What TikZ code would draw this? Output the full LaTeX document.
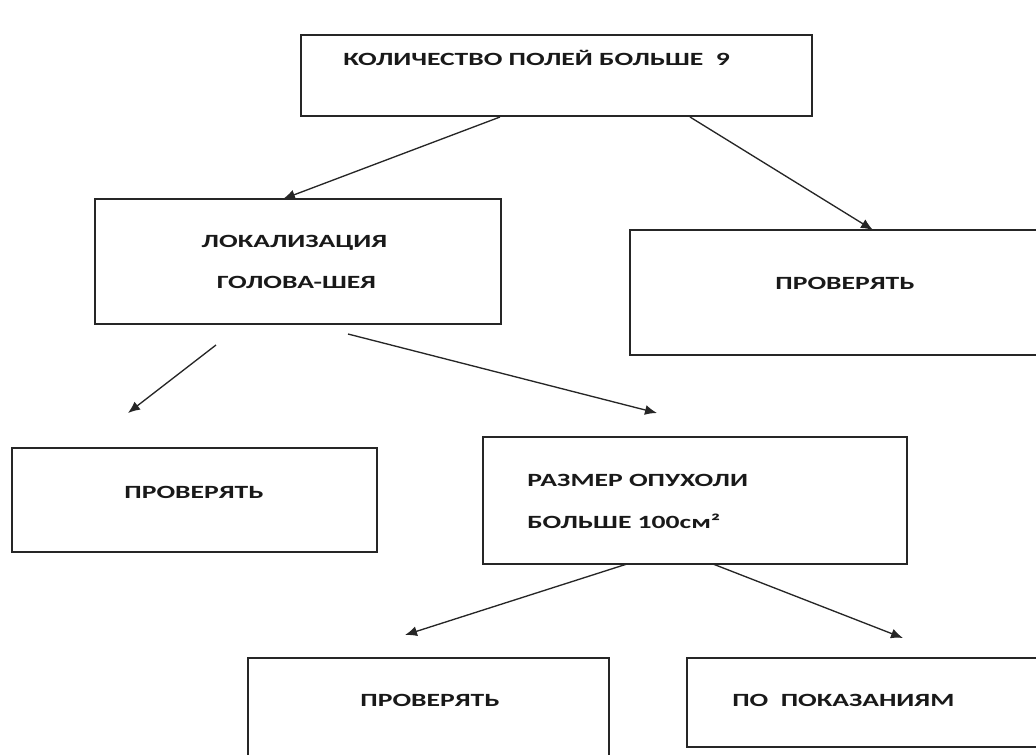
\documentclass[tikz,border=0pt]{standalone}
\usepackage{fontspec}
\usepackage{tikz}
\usetikzlibrary{arrows,arrows.meta,positioning}
\newfontfamily\boxfont[FakeStretch=1.48]{Carlito}
\newcommand\bt{\boxfont\bfseries\fontsize{14}{16}\selectfont}

\begin{document}
\begin{tikzpicture}[x=0.75pt,y=-0.75pt,>={Latex[length=9pt,width=7.5pt]}]%
        \useasboundingbox (0,0) rectangle (1036,754);%%
        \clip (0,0) rectangle (1036,754);%%
        \begin{scope}[shape=rectangle,line width=1.4pt]
        \tikzstyle{every node}=[draw=black!85,inner sep=0pt] %%
        \node[minimum width=383pt,minimum height=61pt] (kol) at (556.5,75.5)  {}; %%
        \node[minimum width=304pt,minimum height=94pt] (lok) at (298,261.5)  {}; %%
        \node[minimum width=308pt,minimum height=94pt] (pr1) at (835,292.5)  {}; %%
        \node[minimum width=274pt,minimum height=78pt] (pr2) at (194.5,500)  {}; %%
        \node[minimum width=318pt,minimum height=95pt] (raz) at (695,500.5)  {}; %%
        \node[minimum width=271pt,minimum height=77pt] (pr3) at (428.5,709)  {}; %%
        \node[minimum width=265pt,minimum height=67pt] (pok) at (863.5,702.5)  {}; %%
        \end{scope}
        \begin{scope}[inner sep=0pt]
        \tikzstyle{every node}=[font=\bt,text=black!90] %%
        \node[anchor=west] (kolt) at (343,58)  {КОЛИЧЕСТВО ПОЛЕЙ БОЛЬШЕ\ \ 9}; %%
        \node (lokt1) at (294.5,243)  {ЛОКАЛИЗАЦИЯ}; %%
        \node (lokt2) at (296.5,282)  {ГОЛОВА-ШЕЯ}; %%
        \node (pr1t) at (845,283)  {ПРОВЕРЯТЬ}; %%
        \node (pr2t) at (194,492)  {ПРОВЕРЯТЬ}; %%
        \node[anchor=west] (razt1) at (527,480)  {РАЗМЕР ОПУХОЛИ}; %%
        \node[anchor=west] (razt2) at (527,521)  {БОЛЬШЕ 100см²}; %%
        \node (pr3t) at (430,700)  {ПРОВЕРЯТЬ}; %%
        \node[anchor=west] (pokt) at (732,700)  {ПО\ \ ПОКАЗАНИЯМ}; %%
        \end{scope}
        %% free ends of the arrows
        \coordinate (k1) at (500,117); \coordinate (l0) at (283,199); %%
        \coordinate (k2) at (690,117); \coordinate (p0) at (873,230); %%
        \coordinate (l1) at (216,345); \coordinate (q0) at (128,413); %%
        \coordinate (l2) at (348,334); \coordinate (r0) at (657,413); %%
        \coordinate (r1) at (627,564); \coordinate (s0) at (405,635); %%
        \coordinate (r2) at (713,564); \coordinate (t0) at (903,638); %%
        \begin{scope}[line width=1pt,black!85]
        \draw[->] (k1)--(l0);  %%
        \draw[->] (k2)--(p0);  %%
        \draw[->] (l1)--(q0);  %%
        \draw[->] (l2)--(r0);  %%
        \draw[->] (r1)--(s0);  %%
        \draw[->] (r2)--(t0);  %%
        \end{scope}
\end{tikzpicture}
\end{document}
